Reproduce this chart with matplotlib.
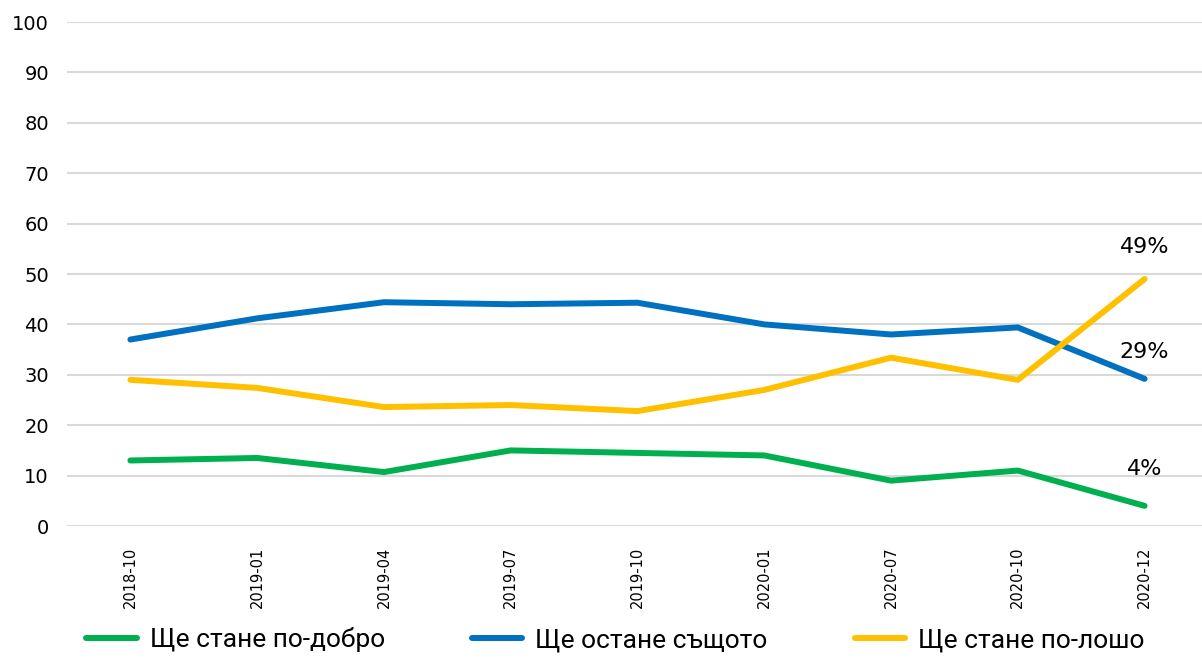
import numpy as np
import matplotlib
matplotlib.use("Agg")
import matplotlib.pyplot as plt

# Данни
periodi = ["2018-10", "2019-01", "2019-04", "2019-07", "2019-10",
           "2020-01", "2020-07", "2020-10", "2020-12"]
po_dobro = [13.0, 13.5, 10.7, 15.0, 14.5, 14.0, 9.0, 11.0, 4.0]
sashtoto = [37.0, 41.2, 44.4, 44.0, 44.3, 40.0, 38.0, 39.4, 29.2]
po_losho = [29.0, 27.4, 23.6, 24.0, 22.8, 27.0, 33.4, 29.0, 49.0]
serii = ["Ще стане по-добро", "Ще остане същото", "Ще стане по-лошо"]
cvetove = ["#00b050", "#0070c0", "#ffc000"]

plt.rcParams["font.family"] = ["DejaVu Sans"]

fig = plt.figure(figsize=(12.02, 6.58), dpi=100)
ax = fig.add_axes([67 / 1202, 1 - 526 / 658, 1141 / 1202, 504 / 658])

x = np.arange(len(periodi))
for stoinosti, ime, cvyat in zip([po_dobro, sashtoto, po_losho], serii, cvetove):
    ax.plot(x, stoinosti, color=cvyat, lw=4.3, label=ime,
            solid_capstyle="round", solid_joinstyle="round")

# Етикети на последната точка
ax.text(x[-1], po_losho[-1] + 4.3, f"{po_losho[-1]:.0f}%", ha="center", va="bottom", fontsize=16)
ax.text(x[-1], sashtoto[-1] + 3.4, f"{sashtoto[-1]:.0f}%", ha="center", va="bottom", fontsize=16)
ax.text(x[-1], po_dobro[-1] + 5.4, f"{po_dobro[-1]:.0f}%", ha="center", va="bottom", fontsize=16)

ax.set_xlim(-0.5, len(periodi) - 0.5)
ax.set_ylim(0, 100)
ax.set_yticks(range(0, 101, 10))
ax.set_xticks(x)
ax.set_xticklabels(periodi, rotation=90, fontsize=10.5)
ax.tick_params(axis="y", labelsize=14, length=0, pad=13)
ax.tick_params(axis="x", length=0, pad=15)
ax.grid(axis="y", color="#d9d9d9", lw=1.5)
ax.set_axisbelow(True)
for s in ax.spines.values():
    s.set_visible(False)

fig.legend(loc="center", bbox_to_anchor=(0.512, 1 - 640 / 658), ncol=3, frameon=False,
           handlelength=1.9, handletextpad=0.5, columnspacing=3.3,
           prop={"family": ["Roboto", "DejaVu Sans"], "size": 19})

fig.savefig("out.png", dpi=100)
